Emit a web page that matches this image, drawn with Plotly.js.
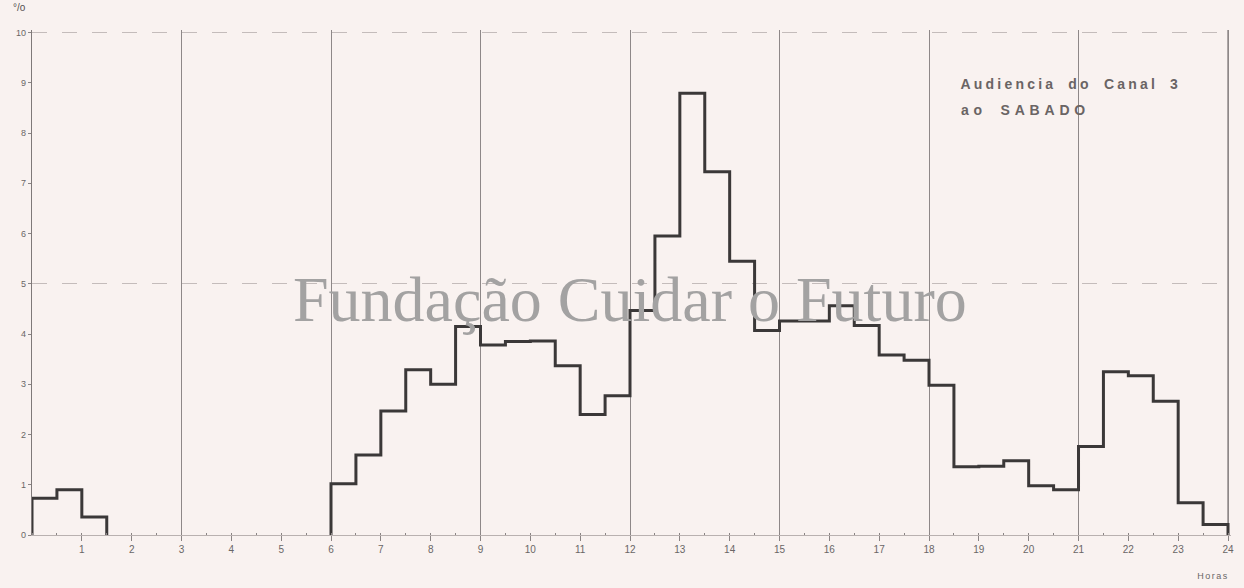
<!DOCTYPE html>
<html>
<head>
<meta charset="utf-8">
<script src="https://cdn.plot.ly/plotly-3.0.1.min.js"></script>
<style>
  html, body { margin: 0; padding: 0; background: #f9f2f0; }
  #chart { width: 1244px; height: 588px; }
</style>
</head>
<body>
<div id="chart"></div>
<script>
// Start hour of each half-hour interval
const intervalStart = [0, 0.5, 1, 1.5, 2, 2.5, 3, 3.5, 4, 4.5, 5, 5.5,
  6, 6.5, 7, 7.5, 8, 8.5, 9, 9.5, 10, 10.5, 11, 11.5,
  12, 12.5, 13, 13.5, 14, 14.5, 15, 15.5, 16, 16.5, 17, 17.5,
  18, 18.5, 19, 19.5, 20, 20.5, 21, 21.5, 22, 22.5, 23, 23.5];
// Audience (%) of Canal 3 on Saturday, per half hour
const audience = [0.73, 0.90, 0.36, 0, 0, 0, 0, 0, 0, 0, 0, 0,
  1.02, 1.59, 2.47, 3.29, 3.00, 4.15, 3.78, 3.85, 3.86, 3.37, 2.40, 2.77,
  4.47, 5.95, 8.79, 7.23, 5.45, 4.07, 4.26, 4.26, 4.56, 4.17, 3.58, 3.48,
  2.98, 1.36, 1.37, 1.48, 0.98, 0.90, 1.76, 3.25, 3.17, 2.66, 0.64, 0.21];
const endHour = 24;
const xTickLabels = ['1','2','3','4','5','6','7','8','9','10','11','12',
  '13','14','15','16','17','18','19','20','21','22','23','24'];
const xTickVals = [1,2,3,4,5,6,7,8,9,10,11,12,13,14,15,16,17,18,19,20,21,22,23,24];
const yTickVals = [0,1,2,3,4,5,6,7,8,9,10];
const titleLines = ['Audiencia do Canal 3', 'ao SABADO'];
const unitLabel = '°/o';
const xAxisLabel = 'Horas';
const watermark = 'Fundação Cuidar o Futuro';

// Build the step outline (gaps where audience is zero)
const xs = [intervalStart[0]], ys = [0];
for (let i = 0; i < audience.length; i++) {
  const v = audience[i];
  const tEnd = i + 1 < intervalStart.length ? intervalStart[i + 1] : endHour;
  if (v > 0) {
    xs.push(intervalStart[i]); ys.push(v);
  } else {
    if (i > 0 && audience[i - 1] > 0) {
      xs.push(intervalStart[i]); ys.push(0);
      xs.push(null); ys.push(null);
    }
    if (i + 1 < audience.length && audience[i + 1] > 0) {
      xs.push(tEnd); ys.push(0);
    }
  }
}
xs.push(endHour); ys.push(audience[audience.length - 1]);
xs.push(endHour); ys.push(0);

const gridColor = '#8e8888';
const textColor = '#6a6666';
const XR = [0, 24.06], YR = [0, 10.05];

const traces = [
  {
    x: xs, y: ys, type: 'scatter', mode: 'lines',
    line: { shape: 'hv', color: '#3b3838', width: 3 },
    connectgaps: false, cliponaxis: false, hoverinfo: 'skip', showlegend: false
  },
  // invisible helper trace to activate the overlay grid axes
  { x: [0, 24], y: [0, 10], xaxis: 'x2', yaxis: 'y2', mode: 'markers',
    marker: { opacity: 0 }, hoverinfo: 'skip', showlegend: false }
];

const layout = {
  width: 1244, height: 588,
  paper_bgcolor: '#f9f2f0', plot_bgcolor: 'rgba(0,0,0,0)',
  margin: { l: 32, r: 13, t: 30, b: 53 },
  font: { family: 'Liberation Sans, Arial, sans-serif', color: textColor, size: 10 },
  xaxis: {
    range: XR, tickmode: 'array', tickvals: xTickVals, ticktext: xTickLabels,
    showgrid: false, zeroline: false, showline: true, linecolor: '#b9b1b0', linewidth: 1,
    ticks: 'outside', ticklen: 5, tickcolor: '#8a8484', tickwidth: 1,
    tickfont: { size: 10, color: textColor },
    minor: { dtick: 0.5, tick0: 0, ticks: 'inside', ticklen: 2, tickcolor: '#8a8484' }
  },
  yaxis: {
    range: YR, tickmode: 'array', tickvals: yTickVals,
    showgrid: false, zeroline: false, showline: true,
    linecolor: '#7f7979', linewidth: 1.2,
    ticks: 'outside', ticklen: 3, tickcolor: '#8a8484',
    tickfont: { size: 9, color: textColor }
  },
  xaxis2: {
    overlaying: 'x', range: XR, dtick: 3, tick0: 0, showgrid: true,
    gridcolor: gridColor, gridwidth: 1, showticklabels: false, zeroline: false, ticks: ''
  },
  yaxis2: {
    overlaying: 'y', range: YR, dtick: 5, tick0: 0, showgrid: true,
    gridcolor: '#c4bcbb', gridwidth: 1, griddash: 'longdash',
    showticklabels: false, zeroline: false, ticks: ''
  },
  shapes: [
    // closing grid line at the last hour
    { type: 'line', layer: 'below', xref: 'x', yref: 'paper',
      x0: endHour, x1: endHour, y0: 0, y1: 1,
      line: { color: '#827c7c', width: 1.3 } }
  ],
  annotations: [
    { xref: 'paper', yref: 'paper', x: 0.8662, y: 0.893, xanchor: 'center', yanchor: 'middle',
      text: titleLines[0], showarrow: false,
      font: { family: 'Liberation Sans, Arial, sans-serif', size: 14, weight: 'bold', color: '#6a6464' } },
    { xref: 'paper', yref: 'paper', x: 0.8285, y: 0.8416, xanchor: 'center', yanchor: 'middle',
      text: titleLines[1], showarrow: false,
      font: { family: 'Liberation Sans, Arial, sans-serif', size: 14, weight: 'bold', color: '#6a6464' } },
    { xref: 'paper', yref: 'paper', x: -0.003, y: 1.045, xanchor: 'right', yanchor: 'middle',
      text: unitLabel, showarrow: false, font: { size: 10, color: '#555050' } },
    { xref: 'paper', yref: 'paper', x: 0.985, y: -0.082, xanchor: 'center', yanchor: 'middle',
      text: xAxisLabel, showarrow: false, font: { size: 9, color: '#6a6666' } },
    { xref: 'paper', yref: 'paper', x: 0.499, y: 0.467, xanchor: 'center', yanchor: 'middle',
      text: watermark, showarrow: false,
      font: { family: 'Liberation Serif, Times New Roman, serif', size: 64, color: '#a3a2a2' } }
  ]
};

Plotly.newPlot('chart', traces, layout, { displayModeBar: false, staticPlot: true }).then(() => {
  document.querySelectorAll('.annotation-text').forEach(el => {
    const t = el.textContent;
    if (t === titleLines[0]) {
      el.style.letterSpacing = '3.2px';
      el.style.wordSpacing = '5px';
    } else if (t === titleLines[1]) {
      el.style.letterSpacing = '4.8px';
      el.style.wordSpacing = '5px';
    } else if (t === xAxisLabel) {
      el.style.letterSpacing = '1.5px';
    }
  });
});
</script>
</body>
</html>
